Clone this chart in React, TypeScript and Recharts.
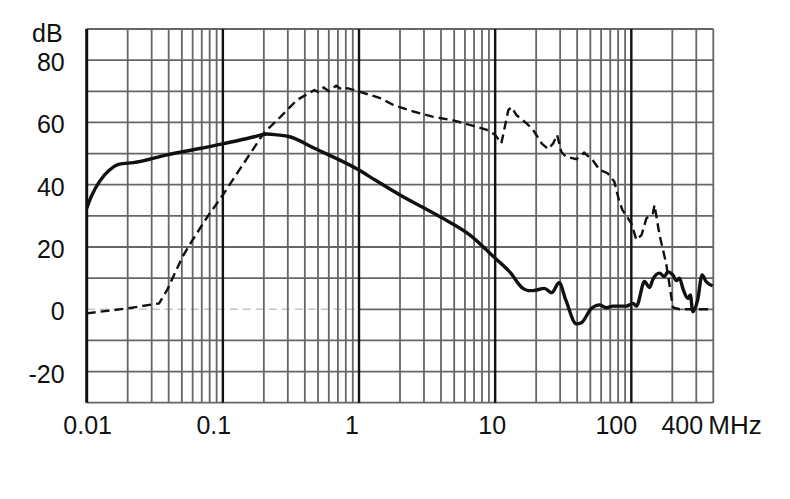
import { LineChart, Line, XAxis, YAxis, ReferenceLine } from 'recharts';

// solid curve
const solidFreq = [
  0.01, 0.0108, 0.0124, 0.0147, 0.0174, 0.022, 0.039, 0.069, 0.1, 0.17, 0.21, 0.25, 0.31, 0.47, 1,
  1.28, 2, 3.94, 6.5, 10, 12.8, 16, 17.5, 19, 23, 26, 29.5, 33, 39.5, 43, 51, 58.6, 65.6, 73, 92,
  103, 109, 125, 136, 144, 161, 175, 185, 202, 214, 226, 239, 260, 271, 283, 307, 331, 354, 396,
];
const solidDb = [
  32.4, 36.2, 41, 44.7, 46.6, 47.1, 49.6, 51.7, 53.1, 55.4, 56.3, 56, 55.4, 51.7, 44.7,
  41.8, 36.7, 29.7, 23.9, 16.4, 12, 6.7, 6, 6, 6.7, 5.3, 8.5, 3, -4.7, -4.3, 0.3, 1.4, 0.5, 1, 1,
  1.9, 1, 8.9, 7, 9.6, 11.6, 10.5, 12, 11, 9.2, 10, 6.7, 3.5, 4.6, -0.8, 3, 11, 8.9, 7.5,
];

// dashed curve
const dashedFreq = [
  0.01, 0.02, 0.034, 0.039, 0.0506, 0.06, 0.077, 0.1, 0.114, 0.2, 0.265, 0.35, 0.47, 0.5, 0.55,
  0.6, 0.68, 0.75, 0.82, 1, 1.21, 1.43, 1.79, 2.51, 3.52, 5, 6.9, 8.7, 10, 11.1, 12.5, 13.2, 14.3,
  17, 19, 21.9, 24.5, 26.7, 28.5, 30.6, 33, 39.5, 45, 52, 58.6, 67, 75, 81, 86, 100, 109, 119, 129,
  144, 148, 161, 180, 190, 202, 226, 400,
];
const dashedDb = [
  -1.3, 0.3, 1.9, 6.2, 16.9, 22.3, 29.7, 36.7, 40.5, 56.6, 61.8, 67.2, 70.4, 69.8, 71.2,
  70, 71.8, 70.5, 71, 69.9, 68.8, 67.8, 65.6, 63.5, 61.8, 60.6, 58.9, 57.6, 56, 53.3, 64, 64.9, 62.4,
  59.7, 57.6, 53.3, 51.4, 53.3, 56, 50.6, 49, 48.2, 50.3, 47.9, 44.7, 43.7, 41, 35.1, 31.9, 27.6, 22.3, 23.9, 29.2,
  30.8, 33.5, 23.9, 14.8, 8.3, 0.6, 0, 0,
];

const xTicks = [0.01, 0.1, 1, 10, 100, 400];
const xTickLabels = ['0.01', '0.1', '1', '10', '100', '400'];
const yTicks = [-20, 0, 20, 40, 60, 80];

const solidData = solidFreq.map((f, i) => ({ f, v: solidDb[i] }));
const dashedData = dashedFreq.map((f, i) => ({ f, v: dashedDb[i] }));

const decades = [0.01, 0.1, 1, 10, 100];
const minorX: number[] = [];
decades.forEach((d) => {
  for (let k = 2; k <= 9; k++) {
    const v = +(d * k).toPrecision(3);
    if (v < 400) minorX.push(v);
  }
});
const majorX = [0.1, 1, 10, 100];
const gridY = [-20, -10, 10, 20, 30, 40, 50, 60, 70, 80];

const FONT = '"Liberation Sans", Arial, sans-serif';
const GRID = '#666';

const labelShift: Record<number, number> = { 0.01: 1, 0.1: -9, 1: -7, 10: -3, 100: -15 };

const XTick = ({ x, y, payload }: any) => {
  const v = payload.value;
  const label = xTickLabels[xTicks.indexOf(v)];
  if (v === 400) {
    return (
      <g fontFamily={FONT} fontSize={25} fill="#111">
        <text x={x - 31} y={y + 31} textAnchor="middle">{label}</text>
        <text x={x - 5} y={y + 31} textAnchor="start" fontSize={26}>MHz</text>
      </g>
    );
  }
  return (
    <text x={x + (labelShift[v] || 0)} y={y + 31} textAnchor="middle" fontFamily={FONT} fontSize={25} fill="#111">
      {label}
    </text>
  );
};

const YTick = ({ x, y, payload }: any) => (
  <text x={x - 22} y={y + 11} textAnchor="end" fontFamily={FONT} fontSize={25} fill="#111">
    {payload.value}
  </text>
);

const App = () => {
  return (
    <LineChart width={782} height={491} margin={{ top: 21, right: 76.7, bottom: 56.3, left: 0 }}>
      <XAxis
        dataKey="f"
        type="number"
        scale="log"
        domain={[0.01, 400]}
        allowDataOverflow
        ticks={xTicks}
        tick={<XTick />}
        tickSize={0}
        tickMargin={0}
        axisLine={false}
        tickLine={false}
        height={40}
        interval={0}
      />
      <YAxis
        type="number"
        domain={[-30, 90]}
        allowDataOverflow
        ticks={yTicks}
        tick={<YTick />}
        tickSize={0}
        tickMargin={0}
        axisLine={false}
        tickLine={false}
        width={78.7}
        interval={0}
        label={{
          content: () => (
            <text x={24} y={34} fontFamily={FONT} fontSize={25} fill="#111">dB</text>
          ),
        }}
      />
      {gridY.map((v) => (
        <ReferenceLine key={`gy-${v}`} y={v} stroke={GRID} strokeWidth={1.8} ifOverflow="visible" />
      ))}
      <ReferenceLine
        segment={[{ x: 1, y: 0 }, { x: 400, y: 0 }]}
        stroke={GRID}
        strokeWidth={1.8}
        ifOverflow="visible"
      />
      <ReferenceLine
        segment={[{ x: 0.01, y: 0 }, { x: 1, y: 0 }]}
        stroke="#c4c4c4"
        strokeWidth={1.5}
        strokeDasharray="8 5"
        ifOverflow="visible"
      />
      <ReferenceLine y={90} stroke={GRID} strokeWidth={1.8} ifOverflow="visible" />
      <ReferenceLine y={-30} stroke={GRID} strokeWidth={1.8} ifOverflow="visible" />
      {minorX.map((v) => (
        <ReferenceLine key={`gx-${v}`} x={v} stroke={GRID} strokeWidth={1.8} ifOverflow="visible" />
      ))}
      <ReferenceLine x={400} stroke={GRID} strokeWidth={1.8} ifOverflow="visible" />
      {majorX.map((v) => (
        <ReferenceLine key={`mx-${v}`} x={v} stroke="#111" strokeWidth={2.4} ifOverflow="visible" />
      ))}
      <ReferenceLine x={0.01} stroke="#111" strokeWidth={3} ifOverflow="visible" />
      <Line
        data={dashedData}
        dataKey="v"
        type="linear"
        stroke="#111"
        strokeWidth={2.4}
        strokeDasharray="9 5"
        dot={false}
        isAnimationActive={false}
      />
      <Line
        data={solidData}
        dataKey="v"
        type="monotone"
        stroke="#111"
        strokeWidth={3.4}
        dot={false}
        isAnimationActive={false}
      />
    </LineChart>
  );
};

export default App;
